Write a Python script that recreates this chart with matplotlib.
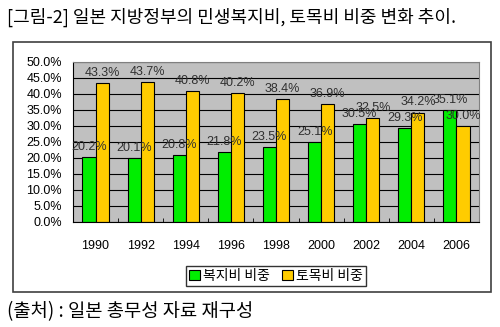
import numpy as np
import matplotlib.pyplot as plt
from matplotlib.patches import Rectangle

plt.rcParams['font.family'] = ['Liberation Sans', 'Noto Sans CJK KR', 'DejaVu Sans']
kr = ['Noto Sans CJK KR', 'DejaVu Sans']

years = ['1990', '1992', '1994', '1996', '1998', '2000', '2002', '2004', '2006']
welfare = [20.2, 20.1, 20.8, 21.8, 23.5, 25.1, 30.5, 29.3, 35.1]
civil = [43.3, 43.7, 40.8, 40.2, 38.4, 36.9, 32.5, 34.2, 30.0]
series_names = ['복지비 비중', '토목비 비중']

fig = plt.figure(figsize=(5, 3.27), dpi=100)

# outer chart frame
fig.patches.append(Rectangle((13 / 500, 1 - 292 / 327), 478 / 500, 250 / 327,
                             transform=fig.transFigure, fill=False,
                             edgecolor='#404040', linewidth=1.2))

ax = fig.add_axes([73 / 500, 1 - 222 / 327, 406 / 500, 160 / 327])
ax.set_facecolor('#c0c0c0')

idx = np.arange(len(years))
w = 0.29
b1 = ax.bar(idx - w / 2, welfare, w, color='#00ee00', edgecolor='black',
            linewidth=0.8, zorder=3, label=series_names[0])
b2 = ax.bar(idx + w / 2, civil, w, color='#ffcc00', edgecolor='black',
            linewidth=0.8, zorder=3, label=series_names[1])

for bars, vals in ((b1, welfare), (b2, civil)):
    for r, v in zip(bars, vals):
        ax.annotate(f'{v:.1f}%', (r.get_x() + r.get_width() / 2, v),
                    xytext=(0, 3), textcoords='offset points',
                    ha='center', va='bottom', fontsize=9, color='#303030',
                    zorder=4)

ax.set_ylim(0, 50)
ax.set_xlim(-0.5, len(years) - 0.5)
ax.set_yticks(np.arange(0, 51, 5))
ax.set_yticklabels([f'{t:.1f}%' for t in np.arange(0, 51, 5)], fontsize=9)
ax.yaxis.grid(True, color='black', linewidth=0.8, zorder=1)
ax.tick_params(axis='y', length=0, pad=8)

ax.set_xticks(idx)
ax.set_xticklabels(years, fontsize=9)
ax.tick_params(axis='x', length=0, pad=13)
ax.set_xticks(idx[:-1] + 0.5, minor=True)
ax.tick_params(axis='x', which='minor', direction='in', length=3, color='black')

ax.spines['left'].set_color('black')
ax.spines['bottom'].set_color('black')
ax.spines['bottom'].set_zorder(5)
ax.spines['top'].set_color('#808080')
ax.spines['right'].set_color('#808080')

leg = fig.legend(handles=[b1, b2], loc='center', bbox_to_anchor=(276 / 500, 1 - 276 / 327),
                 ncol=2, frameon=True, fancybox=False, edgecolor='black',
                 prop={'family': kr, 'size': 10}, handlelength=0.8, handleheight=0.8,
                 handletextpad=0.2, columnspacing=0.9, borderpad=0.25)
leg.get_frame().set_linewidth(1.0)

fig.text(7 / 500, 1 - 17 / 327, '[그림-2] 일본 지방정부의 민생복지비, 토목비 비중 변화 추이.',
         family=kr, fontsize=13, va='center', ha='left')
fig.text(7 / 500, 1 - 312 / 327, '(출처) : 일본 총무성 자료 재구성',
         family=kr, fontsize=13.5, va='center', ha='left')

fig.savefig('out.png', dpi=100)
